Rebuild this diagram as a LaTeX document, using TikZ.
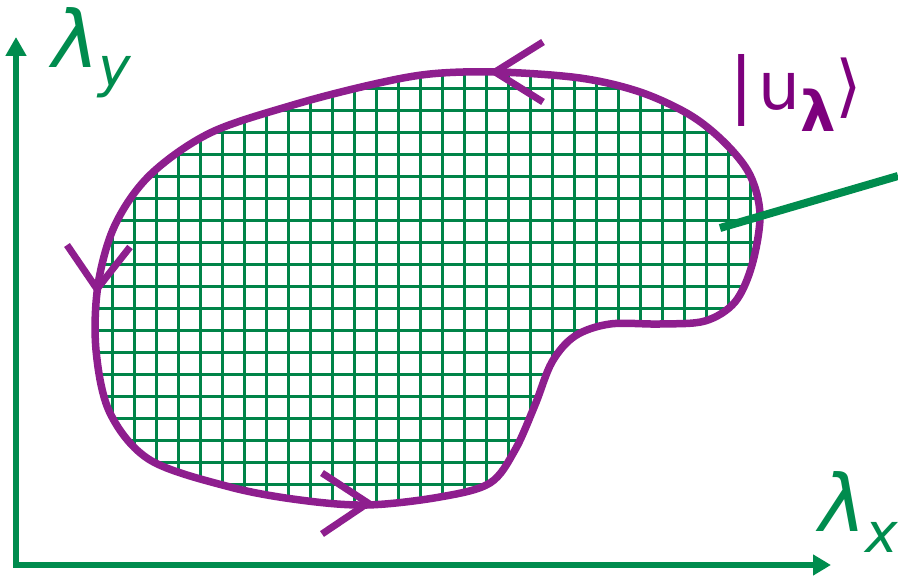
\documentclass[tikz,border=0pt]{standalone}
\usepackage{fontspec}
\newfontfamily\dejavu{DejaVu Sans}
\usetikzlibrary{arrows.meta}

\definecolor{axgreen}{RGB}{0,140,78}
\definecolor{gridgreen}{RGB}{0,132,72}
\definecolor{loopviolet}{RGB}{142,30,142}
\definecolor{ketviolet}{RGB}{125,0,125}

% closed loop in parameter space
\newcommand{\looppath}{plot[smooth cycle, tension=0.55] coordinates {
  (497,72) (430,74) (370,85) (293,105) (210,133) (150,175) (115,225)
  (98,285) (96,350) (110,413) (150,460) (230,487) (300,500) (367,505)
  (440,497) (490,483) (515,450) (535,405) (552,362) (575,336) (610,324)
  (660,324) (705,321) (735,302) (752,265) (760,215) (750,175) (725,143)
  (690,115) (640,92) (580,78)}}

\begin{document}
\begin{tikzpicture}[
  x=1pt, y=-1pt,
  axis/.style={line width=6pt, draw=axgreen, line join=miter,
    {Triangle[length=19pt,width=20pt]}-{Triangle[length=18pt,width=20pt]}},
  gridline/.style={line width=3pt, draw=gridgreen},
  loopline/.style={line width=7.5pt, draw=loopviolet},
  vmark/.style={line width=7pt, draw=loopviolet, line join=miter},
  statebar/.style={line width=8pt, draw=axgreen},
  axlabel/.style={text=axgreen, font=\dejavu\itshape, inner sep=0pt, anchor=base west},
  ketlabel/.style={text=ketviolet, font=\dejavu, inner sep=0pt, anchor=base west}
]
\useasboundingbox (0,0) rectangle (898,577);

% axes
\coordinate (origin) at (16,565);
\coordinate (ytip) at (16,37);
\coordinate (xtip) at (831,565);
\draw[axis] (ytip) -- (origin) -- (xtip);

\node[axlabel] (lamy) at (52,68)
  {\fontsize{79}{79}\selectfont λ\raisebox{-19pt}{\fontsize{55}{55}\selectfont y}};
\node[axlabel] (lamx) at (819,532)
  {\fontsize{79}{79}\selectfont λ\raisebox{-21pt}{\fontsize{55}{55}\selectfont x}};

% hatched region
\begin{scope}
  \clip \looppath;
  \foreach \i in {0,...,31}
    \draw[gridline] (90.3+22*\i,50) -- (90.3+22*\i,520);
  \foreach \j in {0,...,20}
    \draw[gridline] (80,66.3+22*\j) -- (780,66.3+22*\j);
\end{scope}

\draw[loopline] \looppath;

% direction marks
\coordinate (toptip) at (495,72);
\coordinate (topa) at (543,42);
\coordinate (topb) at (543,102);
\draw[vmark] (topa) -- (toptip) -- (topb);
\coordinate (lefttip) at (97,289);
\coordinate (lefta) at (67,245);
\coordinate (leftb) at (130,247);
\draw[vmark] (lefta) -- (lefttip) -- (leftb);
\coordinate (bottip) at (368,503);
\coordinate (bota) at (322,473);
\coordinate (botb) at (322,534);
\draw[vmark] (bota) -- (bottip) -- (botb);

% state vector
\coordinate (statein) at (720,228);
\coordinate (stateout) at (898,176);
\draw[statebar] (statein) -- (stateout);

\node[ketlabel] (ket) at (729,110)
  {\fontsize{72}{72}\selectfont|\kern5pt\fontsize{66}{66}\selectfont u\raisebox{-22pt}{\fontsize{56}{56}\selectfont\bfseries λ}\fontsize{68}{68}\selectfont⟩};
\end{tikzpicture}
\end{document}
